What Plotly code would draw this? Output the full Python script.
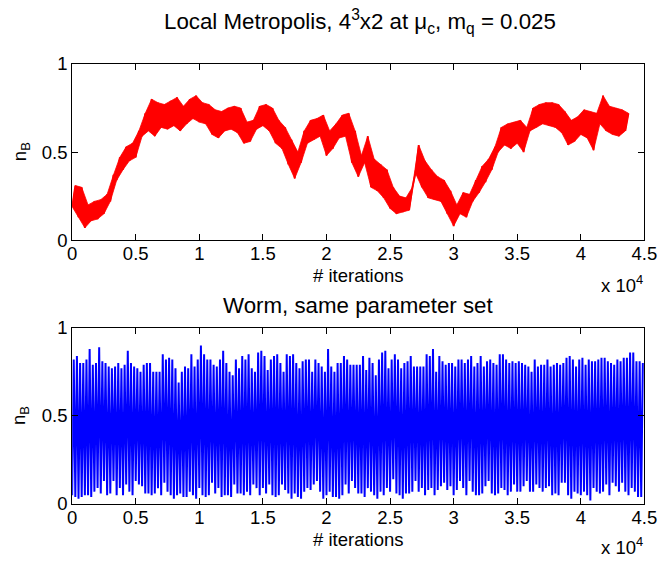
import plotly.graph_objects as go

# ---- Local Metropolis run: n_B range (min, max) in blocks of 500 iterations ----
metro_block = 500
metro_lo = [0.19, 0.13, 0.07, 0.11, 0.12, 0.15, 0.22, 0.34, 0.40, 0.45,
            0.47, 0.59, 0.62, 0.59, 0.64, 0.63, 0.65, 0.62, 0.66, 0.69,
            0.67, 0.66, 0.60, 0.58, 0.62, 0.63, 0.61, 0.55, 0.56, 0.63,
            0.65, 0.62, 0.55, 0.52, 0.43, 0.35, 0.44, 0.55, 0.57, 0.59,
            0.48, 0.52, 0.58, 0.59, 0.44, 0.36, 0.44, 0.30, 0.28, 0.24,
            0.18, 0.15, 0.16, 0.17, 0.38, 0.30, 0.24, 0.23, 0.22, 0.15,
            0.08, 0.15, 0.13, 0.22, 0.27, 0.33, 0.40, 0.50, 0.54, 0.52,
            0.55, 0.50, 0.62, 0.64, 0.66, 0.65, 0.64, 0.61, 0.54, 0.56,
            0.60, 0.58, 0.51, 0.66, 0.62, 0.60, 0.59, 0.62]
metro_hi = [0.31, 0.30, 0.20, 0.22, 0.23, 0.26, 0.37, 0.47, 0.53, 0.55,
            0.62, 0.72, 0.80, 0.78, 0.77, 0.79, 0.81, 0.76, 0.80, 0.82,
            0.78, 0.77, 0.74, 0.73, 0.75, 0.76, 0.75, 0.67, 0.68, 0.76,
            0.77, 0.75, 0.68, 0.64, 0.57, 0.50, 0.62, 0.68, 0.69, 0.71,
            0.62, 0.66, 0.71, 0.72, 0.62, 0.48, 0.59, 0.46, 0.43, 0.40,
            0.30, 0.25, 0.24, 0.30, 0.54, 0.45, 0.40, 0.36, 0.34, 0.28,
            0.20, 0.27, 0.26, 0.34, 0.42, 0.46, 0.53, 0.64, 0.66, 0.67,
            0.68, 0.64, 0.75, 0.77, 0.78, 0.78, 0.77, 0.73, 0.68, 0.70,
            0.74, 0.73, 0.72, 0.82, 0.76, 0.75, 0.74, 0.72]

# ---- Worm run: n_B range (min, max) in blocks of 250 iterations ----
worm_block = 250
worm_lo = [0.05, 0.04, 0.03, 0.04, 0.05, 0.05, 0.04, 0.07, 0.09, 0.06,
           0.13, 0.05, 0.06, 0.13, 0.05, 0.09, 0.05, 0.11, 0.07, 0.05,
           0.13, 0.11, 0.10, 0.06, 0.06, 0.05, 0.06, 0.09, 0.05, 0.12,
           0.07, 0.05, 0.03, 0.05, 0.06, 0.04, 0.04, 0.07, 0.05, 0.03,
           0.09, 0.05, 0.04, 0.05, 0.12, 0.06, 0.09, 0.04, 0.05, 0.05,
           0.04, 0.11, 0.06, 0.06, 0.05, 0.07, 0.05, 0.11, 0.09, 0.05,
           0.09, 0.06, 0.11, 0.05, 0.04, 0.05, 0.11, 0.08, 0.06, 0.03,
           0.06, 0.04, 0.03, 0.07, 0.09, 0.08, 0.11, 0.13, 0.07, 0.03,
           0.05, 0.07, 0.04, 0.04, 0.03, 0.05, 0.11, 0.06, 0.13, 0.09,
           0.06, 0.06, 0.04, 0.09, 0.07, 0.05, 0.03, 0.07, 0.05, 0.09,
           0.07, 0.14, 0.06, 0.05, 0.03, 0.06, 0.06, 0.07, 0.13, 0.07,
           0.09, 0.05, 0.08, 0.09, 0.05, 0.08, 0.10, 0.12, 0.08, 0.10,
           0.05, 0.08, 0.13, 0.09, 0.05, 0.13, 0.07, 0.05, 0.05, 0.06,
           0.10, 0.13, 0.06, 0.05, 0.06, 0.09, 0.08, 0.05, 0.07, 0.11,
           0.07, 0.07, 0.10, 0.13, 0.07, 0.07, 0.11, 0.09, 0.07, 0.09,
           0.10, 0.05, 0.06, 0.05, 0.12, 0.12, 0.05, 0.03, 0.07, 0.06,
           0.05, 0.07, 0.05, 0.02, 0.09, 0.07, 0.06, 0.07, 0.11, 0.05,
           0.12, 0.10, 0.07, 0.12, 0.07, 0.05, 0.09, 0.07, 0.04, 0.04]
worm_hi = [0.82, 0.84, 0.80, 0.80, 0.82, 0.88, 0.79, 0.80, 0.89, 0.81,
           0.80, 0.78, 0.77, 0.78, 0.80, 0.77, 0.79, 0.87, 0.80, 0.78,
           0.77, 0.75, 0.79, 0.80, 0.80, 0.75, 0.75, 0.75, 0.85, 0.82,
           0.83, 0.82, 0.77, 0.69, 0.75, 0.78, 0.77, 0.85, 0.78, 0.82,
           0.90, 0.85, 0.82, 0.82, 0.79, 0.78, 0.82, 0.87, 0.80, 0.75,
           0.73, 0.82, 0.77, 0.84, 0.82, 0.85, 0.77, 0.75, 0.86, 0.87,
           0.84, 0.76, 0.82, 0.84, 0.85, 0.80, 0.75, 0.85, 0.84, 0.85,
           0.80, 0.77, 0.81, 0.82, 0.82, 0.75, 0.82, 0.80, 0.78, 0.75,
           0.88, 0.78, 0.75, 0.80, 0.80, 0.84, 0.82, 0.79, 0.79, 0.79,
           0.79, 0.84, 0.76, 0.83, 0.80, 0.73, 0.82, 0.86, 0.87, 0.77,
           0.82, 0.85, 0.82, 0.77, 0.80, 0.81, 0.84, 0.78, 0.78, 0.78,
           0.78, 0.85, 0.84, 0.88, 0.75, 0.84, 0.81, 0.79, 0.80, 0.80,
           0.78, 0.82, 0.82, 0.80, 0.82, 0.84, 0.78, 0.80, 0.84, 0.78,
           0.81, 0.82, 0.80, 0.79, 0.85, 0.85, 0.82, 0.80, 0.81, 0.80,
           0.81, 0.80, 0.79, 0.78, 0.75, 0.82, 0.78, 0.79, 0.79, 0.82,
           0.78, 0.79, 0.80, 0.79, 0.80, 0.83, 0.84, 0.82, 0.78, 0.82,
           0.83, 0.79, 0.82, 0.81, 0.81, 0.82, 0.83, 0.83, 0.81, 0.80,
           0.79, 0.82, 0.81, 0.83, 0.83, 0.86, 0.86, 0.81, 0.81, 0.80]

x_tickvals = [0, 5000, 10000, 15000, 20000, 25000, 30000, 35000, 40000, 45000]
x_ticktext = ["0", "0.5", "1", "1.5", "2", "2.5", "3", "3.5", "4", "4.5"]
y_tickvals = [0, 0.5, 1]
y_ticktext = ["0", "0.5", "1"]

W, H = 672, 565
FONT = "Liberation Sans, Arial, Helvetica, sans-serif"
LABEL_SIZE = 18.5
TITLE_SIZE = 22.3


def block_zigzag(block, lo, hi):
    """Alternate between each block's minimum and maximum so the dense
    Monte Carlo history shows up as a jagged band of strokes."""
    xs, ys = [], []
    for i, (a, b) in enumerate(zip(lo, hi)):
        xs += [i * block, i * block + block / 2]
        ys += [a, b]
    return xs, ys


def block_outline(block, lo, hi):
    """Closed outline of the band: maxima left to right, minima back."""
    n = len(lo)
    xs = [i * block + block / 2 for i in range(n)] + [i * block for i in reversed(range(n))]
    ys = list(hi) + list(reversed(lo))
    return xs + [xs[0]], ys + [ys[0]]


def px_x(p):
    return p / W


def px_y(p):
    return 1 - p / H


fig = go.Figure()

# Local Metropolis history (red band with jagged strokes)
ox, oy = block_outline(metro_block, metro_lo, metro_hi)
fig.add_trace(go.Scatter(x=ox, y=oy, mode="lines", fill="toself",
                         fillcolor="#ff0000", line=dict(color="#ff0000", width=0.8),
                         xaxis="x", yaxis="y", showlegend=False, hoverinfo="skip"))
mx, my = block_zigzag(metro_block, metro_lo, metro_hi)
fig.add_trace(go.Scatter(x=mx, y=my, mode="lines",
                         line=dict(color="#ff0000", width=1.8),
                         xaxis="x", yaxis="y", showlegend=False))

# Worm history (blue)
wx, wy = block_zigzag(worm_block, worm_lo, worm_hi)
fig.add_trace(go.Scatter(x=wx, y=wy, mode="lines",
                         line=dict(color="#0000ff", width=2.0),
                         xaxis="x2", yaxis="y2", showlegend=False))

axis_common = dict(showline=True, mirror="ticks", linecolor="black", linewidth=1,
                   ticks="inside", ticklen=6, tickcolor="black", tickwidth=1,
                   showgrid=False, zeroline=False,
                   tickfont=dict(family=FONT, size=LABEL_SIZE, color="black"))

xdom = [px_x(69), px_x(657)]
fig.update_layout(
    width=W, height=H,
    margin=dict(l=0, r=0, t=0, b=0),
    paper_bgcolor="white", plot_bgcolor="white",
    font=dict(family=FONT, color="black"),
    xaxis=dict(domain=xdom, range=[0, 45000], tickvals=x_tickvals,
               ticktext=x_ticktext, anchor="y", ticklabelstandoff=-3, **axis_common),
    yaxis=dict(domain=[px_y(238), px_y(55)], range=[0, 1], tickvals=y_tickvals,
               ticktext=y_ticktext, anchor="x", **axis_common),
    xaxis2=dict(domain=xdom, range=[0, 45000], tickvals=x_tickvals,
                ticktext=x_ticktext, anchor="y2", ticklabelstandoff=-3, **axis_common),
    yaxis2=dict(domain=[px_y(512), px_y(329)], range=[0, 1], tickvals=y_tickvals,
                ticktext=y_ticktext, anchor="x2", **axis_common),
)

ann_font = dict(family=FONT, size=LABEL_SIZE, color="black")
title_font = dict(family=FONT, size=TITLE_SIZE, color="black")
annotations = [
    # titles
    dict(text="Local Metropolis, 4<sup>3</sup>x2 at \u03bc<sub>c</sub>, m<sub>q</sub> = 0.025",
         x=px_x(365), y=px_y(11), font=title_font),
    dict(text="Worm, same parameter set", x=px_x(363), y=px_y(306), font=title_font),
    # x-axis labels
    dict(text="# iterations", x=px_x(363), y=px_y(275), font=ann_font),
    dict(text="# iterations", x=px_x(363), y=px_y(549), font=ann_font),
    # exponent labels
    dict(text="x 10<sup>4</sup>", x=px_x(658), y=px_y(284), xanchor="right",
         font=ann_font),
    dict(text="x 10<sup>4</sup>", x=px_x(658), y=px_y(556), xanchor="right",
         font=ann_font),
    # y-axis labels
    dict(text="n<sub>B</sub>", x=px_x(16), y=px_y(146), textangle=-90, font=ann_font),
    dict(text="n<sub>B</sub>", x=px_x(16), y=px_y(420), textangle=-90, font=ann_font),
]
for a in annotations:
    a.setdefault("xanchor", "center")
    a.update(xref="paper", yref="paper", yanchor="middle", showarrow=False)
fig.update_layout(annotations=annotations)

fig.write_html("out.html")
